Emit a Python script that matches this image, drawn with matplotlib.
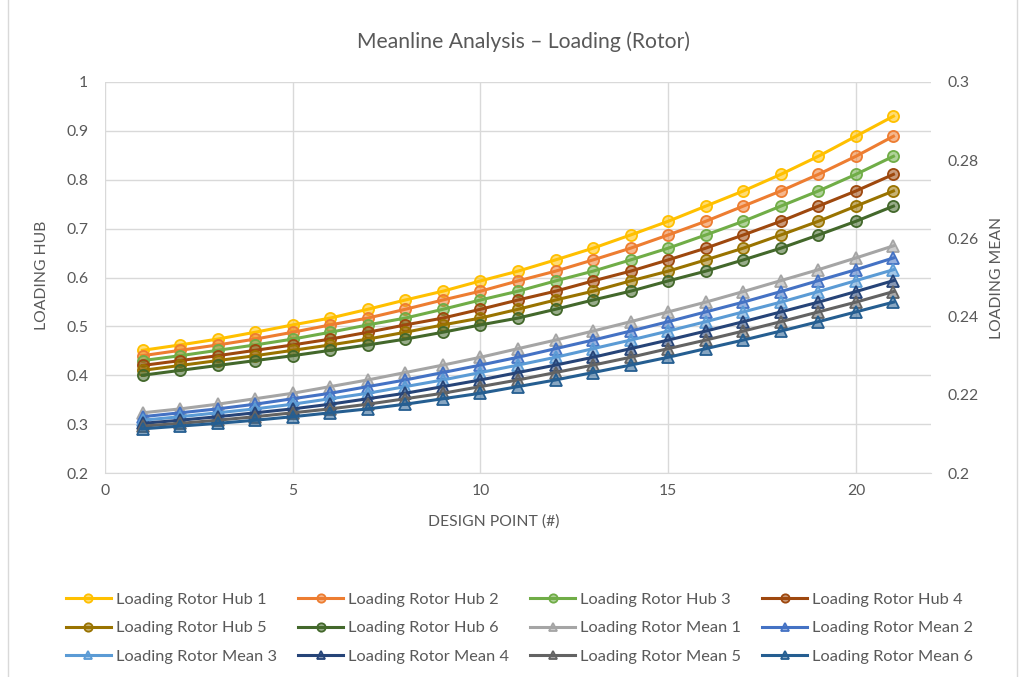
"""
Meanline analysis - rotor loading at hub and mean line vs design point.
Hub series on the left axis, mean-line series on the right axis.
"""

import matplotlib.pyplot as plt
from matplotlib.colors import to_rgba
from matplotlib.patches import Rectangle

plt.rcParams["font.family"] = ["Lato", "DejaVu Sans"]

design_point = list(range(1, 22))

hub_1 = [0.451, 0.462, 0.474, 0.488, 0.503, 0.517, 0.535, 0.554, 0.572, 0.593, 0.613,
         0.636, 0.660, 0.687, 0.715, 0.746, 0.777, 0.811, 0.848, 0.889, 0.930]
hub_2 = [0.440, 0.451, 0.462, 0.474, 0.488, 0.503, 0.517, 0.535, 0.554, 0.572, 0.593,
         0.613, 0.636, 0.660, 0.687, 0.715, 0.746, 0.777, 0.811, 0.848, 0.889]
hub_3 = [0.430, 0.440, 0.451, 0.462, 0.474, 0.488, 0.503, 0.517, 0.535, 0.554, 0.572,
         0.593, 0.613, 0.636, 0.660, 0.687, 0.715, 0.746, 0.777, 0.811, 0.848]
hub_4 = [0.420, 0.430, 0.440, 0.451, 0.462, 0.474, 0.488, 0.503, 0.517, 0.535, 0.554,
         0.572, 0.593, 0.613, 0.636, 0.660, 0.687, 0.715, 0.746, 0.777, 0.811]
hub_5 = [0.410, 0.420, 0.430, 0.440, 0.451, 0.462, 0.474, 0.488, 0.503, 0.517, 0.535,
         0.554, 0.572, 0.593, 0.613, 0.636, 0.660, 0.687, 0.715, 0.746, 0.777]
hub_6 = [0.400, 0.410, 0.420, 0.430, 0.440, 0.451, 0.462, 0.474, 0.488, 0.503, 0.517,
         0.535, 0.554, 0.572, 0.593, 0.613, 0.636, 0.660, 0.687, 0.715, 0.746]

mean_1 = [0.2154, 0.2164, 0.2176, 0.2190, 0.2204, 0.2221, 0.2238, 0.2257, 0.2276, 0.2296, 0.2318,
          0.2340, 0.2363, 0.2387, 0.2412, 0.2437, 0.2464, 0.2492, 0.2520, 0.2550, 0.2581]
mean_2 = [0.2144, 0.2154, 0.2164, 0.2176, 0.2190, 0.2204, 0.2221, 0.2238, 0.2257, 0.2276, 0.2296,
          0.2318, 0.2340, 0.2363, 0.2387, 0.2412, 0.2437, 0.2464, 0.2492, 0.2520, 0.2550]
mean_3 = [0.2135, 0.2144, 0.2154, 0.2164, 0.2176, 0.2190, 0.2204, 0.2221, 0.2238, 0.2257, 0.2276,
          0.2296, 0.2318, 0.2340, 0.2363, 0.2387, 0.2412, 0.2437, 0.2464, 0.2492, 0.2520]
mean_4 = [0.2127, 0.2135, 0.2144, 0.2154, 0.2164, 0.2176, 0.2190, 0.2204, 0.2221, 0.2238, 0.2257,
          0.2276, 0.2296, 0.2318, 0.2340, 0.2363, 0.2387, 0.2412, 0.2437, 0.2464, 0.2492]
mean_5 = [0.2120, 0.2127, 0.2135, 0.2144, 0.2154, 0.2164, 0.2176, 0.2190, 0.2204, 0.2221, 0.2238,
          0.2257, 0.2276, 0.2296, 0.2318, 0.2340, 0.2363, 0.2387, 0.2412, 0.2437, 0.2464]
mean_6 = [0.2113, 0.2120, 0.2127, 0.2135, 0.2144, 0.2154, 0.2164, 0.2176, 0.2190, 0.2204, 0.2221,
          0.2238, 0.2257, 0.2276, 0.2296, 0.2318, 0.2340, 0.2363, 0.2387, 0.2412, 0.2437]

hub_series = [hub_1, hub_2, hub_3, hub_4, hub_5, hub_6]
mean_series = [mean_1, mean_2, mean_3, mean_4, mean_5, mean_6]
hub_labels = [f"Loading Rotor Hub {i}" for i in range(1, 7)]
mean_labels = [f"Loading Rotor Mean {i}" for i in range(1, 7)]

hub_colors = ["#FFC000", "#ED7D31", "#70AD47", "#9E480E", "#997300", "#43682B"]
mean_colors = ["#A5A5A5", "#4472C4", "#5B9BD5", "#264478", "#636363", "#255E91"]

left_ticks = [0.2, 0.3, 0.4, 0.5, 0.6, 0.7, 0.8, 0.9, 1.0]
left_tick_labels = ["0.2", "0.3", "0.4", "0.5", "0.6", "0.7", "0.8", "0.9", "1"]
right_ticks = [0.2, 0.22, 0.24, 0.26, 0.28, 0.3]
right_tick_labels = ["0.2", "0.22", "0.24", "0.26", "0.28", "0.3"]
x_ticks = [0, 5, 10, 15, 20]

text_color = "#595959"
grid_color = "#D9D9D9"

fig = plt.figure(figsize=(10.25, 6.77), dpi=100)
ax = fig.add_axes([0.1024, 0.3013, 0.8059, 0.5776])
ax2 = ax.twinx()

handles = {}
for values, label, color in zip(hub_series, hub_labels, hub_colors):
    (line,) = ax.plot(design_point, values, color=color, linewidth=2.2, marker="o",
                      markersize=8, markerfacecolor=to_rgba(color, 0.55),
                      markeredgecolor=color, markeredgewidth=1.3, label=label)
    handles[label] = line
for values, label, color in zip(mean_series, mean_labels, mean_colors):
    (line,) = ax2.plot(design_point, values, color=color, linewidth=2.2, marker="^",
                       markersize=8.5, markerfacecolor=to_rgba(color, 0.55),
                       markeredgecolor=color, markeredgewidth=1.3, label=label)
    handles[label] = line

ax.set_xlim(0, 22)
ax.set_ylim(0.2, 1.0)
ax2.set_ylim(0.2, 0.3)
ax.set_xticks(x_ticks)
ax.set_yticks(left_ticks)
ax.set_yticklabels(left_tick_labels)
ax2.set_yticks(right_ticks)
ax2.set_yticklabels(right_tick_labels)

ax.grid(True, color=grid_color, linewidth=1.0)
ax.set_axisbelow(True)
for a in (ax, ax2):
    for side in ("top", "right", "left", "bottom"):
        a.spines[side].set_visible(False)
ax.spines["bottom"].set_visible(True)
ax.spines["bottom"].set_color(grid_color)
ax.tick_params(axis="both", length=0, labelsize=11.3, labelcolor=text_color, pad=12)
ax.tick_params(axis="x", pad=8)
ax2.tick_params(axis="y", length=0, labelsize=11.3, labelcolor=text_color, pad=12)

ax.set_xlabel("DESIGN POINT (#)", fontsize=11.3, color=text_color)
ax.xaxis.set_label_coords(0.471, -0.105)
ax.set_ylabel("LOADING HUB", fontsize=11.3, color=text_color)
ax.yaxis.set_label_coords(-0.068, 0.505)
ax2.set_ylabel("LOADING MEAN", fontsize=11.3, color=text_color)
ax2.yaxis.set_label_coords(1.071, 0.5)

fig.text(0.5105, 0.938, "Meanline Analysis \u2013 Loading (Rotor)", ha="center", va="center",
         fontsize=15.2, color=text_color)

# Excel fills the legend row by row; matplotlib fills column by column
order = [hub_labels[0], hub_labels[4], mean_labels[2],
         hub_labels[1], hub_labels[5], mean_labels[3],
         hub_labels[2], mean_labels[0], mean_labels[4],
         hub_labels[3], mean_labels[1], mean_labels[5]]
leg = fig.legend([handles[k] for k in order], order, loc="upper center",
                 bbox_to_anchor=(0.507, 0.1462), ncol=4, frameon=False,
                 fontsize=11.75, handlelength=2.76, handletextpad=0.3,
                 columnspacing=1.3, labelspacing=0.85, markerscale=0.75)
for t in leg.get_texts():
    t.set_color(text_color)

fig.patches.append(Rectangle((0.008, -0.01), 0.984, 1.02, transform=fig.transFigure,
                             fill=False, edgecolor=grid_color, linewidth=1.0))

fig.savefig("out.png", dpi=100)
